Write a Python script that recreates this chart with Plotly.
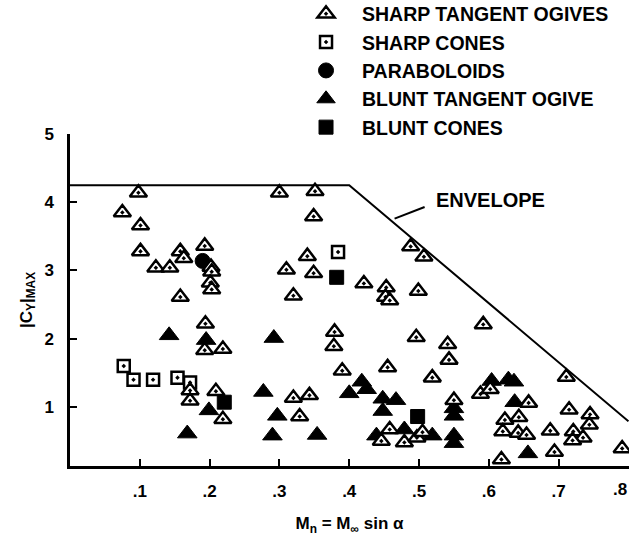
import plotly.graph_objects as go

# Sharp tangent ogives (open triangles)
sto_x = [0.098, 0.075, 0.101, 0.101, 0.123, 0.143, 0.158, 0.163, 0.193, 0.202, 0.203, 0.201, 0.203,
         0.158, 0.194, 0.193, 0.219, 0.172, 0.172, 0.209, 0.219,
         0.300, 0.351, 0.349, 0.340, 0.310, 0.349, 0.320, 0.421, 0.453, 0.452, 0.458, 0.499, 0.488,
         0.507, 0.379, 0.378, 0.496,
         0.390, 0.455, 0.519, 0.320, 0.343, 0.329, 0.446, 0.458, 0.479, 0.497, 0.505,
         0.592, 0.541, 0.543, 0.550, 0.711, 0.588, 0.602, 0.657, 0.623, 0.643, 0.620, 0.642, 0.654,
         0.688, 0.618, 0.694, 0.715, 0.745, 0.744, 0.721, 0.735, 0.720, 0.791]
sto_y = [4.14, 3.85, 3.66, 3.28, 3.04, 3.04, 3.28, 3.18, 3.36, 3.05, 2.98, 2.82, 2.72,
         2.61, 2.22, 1.83, 1.85, 1.24, 1.09, 1.23, 0.82,
         4.14, 4.16, 3.79, 3.21, 3.01, 2.96, 2.63, 2.81, 2.75, 2.61, 2.56, 2.70, 3.35,
         3.20, 2.10, 1.89, 2.02,
         1.53, 1.58, 1.43, 1.13, 1.17, 0.86, 0.50, 0.67, 0.48, 0.55, 0.63,
         2.21, 1.92, 1.69, 1.10, 1.44, 1.19, 1.26, 1.06, 0.81, 0.85, 0.64, 0.62, 0.59,
         0.65, 0.23, 0.34, 0.96, 0.89, 0.74, 0.64, 0.55, 0.51, 0.39]

# Sharp cones (open squares)
sc_x = [0.077, 0.091, 0.119, 0.154, 0.172, 0.384]
sc_y = [1.60, 1.40, 1.40, 1.43, 1.36, 3.27]

# Paraboloids (filled circles)
par_x = [0.190]
par_y = [3.14]

# Blunt tangent ogive (filled triangles)
bto_x = [0.142, 0.195, 0.168, 0.199, 0.277, 0.292, 0.297, 0.290, 0.354, 0.400, 0.418, 0.425,
         0.448, 0.467, 0.448, 0.439, 0.479, 0.519, 0.550, 0.550, 0.550, 0.550,
         0.604, 0.628, 0.636, 0.637, 0.656]
bto_y = [2.05, 1.98, 0.61, 0.95, 1.22, 2.01, 0.87, 0.58, 0.59, 1.20, 1.37, 1.26,
         1.12, 1.10, 0.94, 0.58, 0.67, 0.58, 0.98, 0.87, 0.58, 0.47,
         1.38, 1.40, 1.37, 1.07, 0.32]

# Blunt cones (filled squares)
bc_x = [0.221, 0.382, 0.498]
bc_y = [1.07, 2.90, 0.86]

# Envelope
env_x = [0.0, 0.40, 0.80]
env_y = [4.25, 4.25, 0.79]

x_ticks = [0.1, 0.2, 0.3, 0.4, 0.5, 0.6, 0.7, 0.8]
x_ticktext = [".1", ".2", ".3", ".4", ".5", ".6", ".7", ""]
last_x_label = ".8"
y_ticks = [1, 2, 3, 4, 5]

FONT = "Liberation Sans"

fig = go.Figure()
fig.add_trace(go.Scatter(x=env_x, y=env_y, mode="lines", line=dict(color="black", width=2),
                         showlegend=False, hoverinfo="skip"))
fig.add_trace(go.Scatter(x=bto_x, y=bto_y, mode="markers", name="BLUNT TANGENT OGIVE",
                         legendrank=4, legendgroup="d",
                         marker=dict(symbol="triangle-up", size=17, color="black",
                                     line=dict(color="black", width=1))))
fig.add_trace(go.Scatter(x=bc_x, y=bc_y, mode="markers", name="BLUNT CONES",
                         legendrank=5, legendgroup="e",
                         marker=dict(symbol="square", size=14, color="black",
                                     line=dict(color="black", width=1))))
fig.add_trace(go.Scatter(x=par_x, y=par_y, mode="markers", name="PARABOLOIDS",
                         legendrank=3, legendgroup="c",
                         marker=dict(symbol="circle", size=15, color="black",
                                     line=dict(color="black", width=1))))
fig.add_trace(go.Scatter(x=sc_x, y=sc_y, mode="markers", name="SHARP CONES",
                         legendrank=2, legendgroup="b",
                         marker=dict(symbol="square-dot", size=12, color="white",
                                     line=dict(color="black", width=2.5))))
fig.add_trace(go.Scatter(x=sto_x, y=sto_y, mode="markers", name="SHARP TANGENT OGIVES",
                         legendrank=1, legendgroup="a",
                         marker=dict(symbol="triangle-up-dot", size=15, color="white",
                                     line=dict(color="black", width=2.5))))

fig.add_annotation(x=0.522, y=4.03, xref="x", yref="y", text="ENVELOPE", showarrow=False,
                   xanchor="left", yanchor="middle",
                   font=dict(family=FONT, size=20, color="black", weight="bold"))
fig.add_shape(type="line", x0=0.465, y0=3.76, x1=0.508, y1=3.93, xref="x", yref="y",
              line=dict(color="black", width=2))
fig.add_annotation(x=-0.012, y=0.135, xref="x", yref="y", text="0", showarrow=False,
                   xanchor="center", yanchor="top", yshift=-12,
                   font=dict(family=FONT, size=17, color="black", weight="bold"))
fig.add_annotation(x=x_ticks[-1], y=0.135, xref="x", yref="y", text=last_x_label, showarrow=False,
                   xanchor="right", yanchor="top", yshift=-12, xshift=1,
                   font=dict(family=FONT, size=17, color="black", weight="bold"))

fig.update_layout(
    width=631, height=543,
    margin=dict(l=70, r=2, t=129, b=70),
    paper_bgcolor="white", plot_bgcolor="white",
    font=dict(family=FONT, color="black", size=17, weight="bold"),
    legend=dict(x=0.3936, y=1.42, xanchor="left", yanchor="top", tracegroupgap=0,
                font=dict(family=FONT, size=19.5, color="black", weight="bold"),
                bgcolor="rgba(0,0,0,0)", itemwidth=62),
    xaxis=dict(range=[0, 0.8008], showline=True, linecolor="black", linewidth=2.5,
               ticks="inside", ticklen=7, tickwidth=2, tickcolor="black",
               tickvals=x_ticks, ticktext=x_ticktext, showgrid=False, zeroline=False,
               ticklabelstandoff=8,
               tickfont=dict(family=FONT, size=17, color="black", weight="bold"),
               title=dict(text="M<sub>n</sub> = M<sub>\u221e</sub> sin \u03b1", standoff=18,
                          font=dict(family=FONT, size=17, color="black", weight="bold"))),
    yaxis=dict(range=[0.135, 5.0], showline=True, linecolor="black", linewidth=2.5,
               ticks="inside", ticklen=7, tickwidth=2, tickcolor="black",
               tickvals=y_ticks, showgrid=False, zeroline=False,
               ticklabelstandoff=10,
               tickfont=dict(family=FONT, size=17, color="black", weight="bold"),
               title=dict(text="|C<sub>Y</sub>|<sub>MAX</sub>", standoff=8,
                          font=dict(family=FONT, size=17, color="black", weight="bold"))),
)

fig.write_html("out.html", config={"displayModeBar": False},
               post_script="document.body.style.margin='0px';document.body.style.marginTop='-7px';")
